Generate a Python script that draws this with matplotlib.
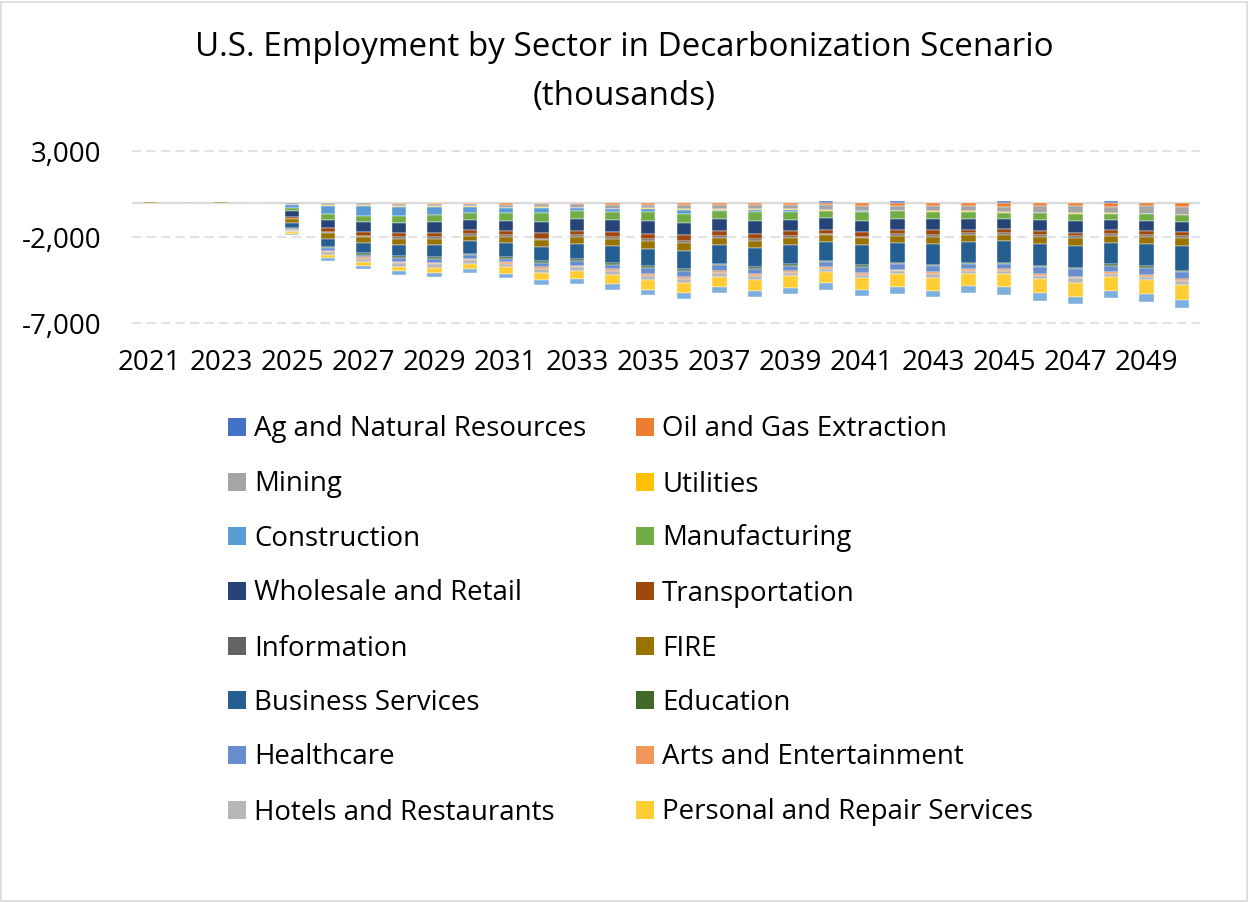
import numpy as np
import matplotlib
matplotlib.use("Agg")
import matplotlib.pyplot as plt
from matplotlib.patches import Rectangle

W, H = 1249, 902

years = list(range(2021, 2051))
tick_years = [str(y) for y in range(2021, 2051, 2)]
ytick_values = [3000, -2000, -7000]
ytick_labels = ["3,000", "-2,000", "-7,000"]

sectors = [
    "Ag and Natural Resources", "Oil and Gas Extraction", "Mining", "Utilities",
    "Construction", "Manufacturing", "Wholesale and Retail", "Transportation",
    "Information", "FIRE", "Business Services", "Education", "Healthcare",
    "Arts and Entertainment", "Hotels and Restaurants", "Personal and Repair Services",
    "Government",
]
colors = [
    "#4472C4", "#ED7D31", "#A5A5A5", "#FFC000", "#5B9BD5", "#70AD47", "#264478",
    "#9E480E", "#636363", "#997300", "#255E91", "#43682B", "#698ED0", "#F1975A",
    "#B7B7B7", "#FFCD33", "#7CAFDD",
]
legend_count = 16  # the reference legend is clipped after 16 entries

# values in thousands, 2021..2050
ag = [0, 0, 0, 0] + [0, 0, 0, 0, 0, 0, 0, 0, 0, 0, 0, 0, 0, 0, 0, 78, 0, 116, 0, 0, 116, 0, 0, 116, 0, 0]
oil = [0, 0, 0, 0] + [-19, -39, -39, -58, -78, -78, -116, -97, -97, -116, -116, -116, -116, -136, -136, -136, -194, -194, -194, -194, -233, -213, -213, -233, -213, -272]
mining = [0, 0, 0, -40] + [-97, -116, -78, -155, -136, -136, -175, -155, -194, -233, -194, -233, -272, -213, -252, -310, -272, -272, -291, -310, -330, -369, -407, -388, -427, -427]
utilities = [0, 0, 0, 0] + [-19, -39, -97, -58, -58, -58, -39, -58, -39, -39, -58, -58, -58, -58, -58, -39, 0, -39, -39, -39, -39, -39, -39, -39, -39, -39]
construction = [0, 0, 0, 0] + [-194, -485, -563, -485, -427, -310, -252, -310, -155, -155, -194, -252, -39, -155, -97, 0, -97, 0, 0, 0, 0, 0, 0, 0, 0, 0]
manufacturing = [0, 0, 0, 0] + [-155, -310, -369, -446, -446, -446, -466, -504, -485, -466, -504, -524, -485, -524, -466, -427, -485, -446, -446, -407, -349, -388, -427, -349, -369, -369]
wholesale = [0, 0, 0, 0] + [-349, -504, -582, -582, -601, -582, -621, -660, -660, -698, -737, -718, -679, -718, -660, -660, -679, -640, -640, -621, -601, -640, -660, -582, -601, -621]
transportation = [0, 0, 0, 0] + [-97, -233, -194, -233, -272, -233, -233, -310, -272, -310, -310, -330, -291, -310, -291, -233, -252, -252, -291, -213, -233, -252, -213, -252, -213, -233]
information = [0, 0, 0, 0] + [-39, -58, -78, -97, -78, -78, -78, -78, -97, -97, -97, -97, -116, -97, -97, -97, -97, -97, -97, -116, -116, -78, -116, -97, -116, -97]
fire = [45, 0, 35, 0] + [-213, -310, -330, -369, -349, -330, -388, -388, -407, -427, -466, -466, -427, -427, -388, -388, -407, -388, -427, -369, -349, -446, -427, -388, -427, -446]
business = [0, 0, 0, 0] + [-310, -504, -621, -640, -737, -718, -776, -854, -854, -970, -1028, -1067, -1067, -1106, -1125, -1086, -1164, -1164, -1183, -1222, -1242, -1261, -1280, -1261, -1300, -1455]
education = [0, 0, 0, 0] + [-19, -58, -78, -78, -78, -97, -116, -97, -116, -97, -78, -97, -97, -97, -97, -97, -78, -97, -97, -78, -97, -78, -97, -97, -97, -97]
healthcare = [0, 0, 0, 0] + [-97, -155, -155, -233, -252, -194, -213, -252, -291, -272, -369, -369, -349, -330, -330, -272, -369, -310, -349, -291, -291, -407, -427, -349, -427, -407]
arts = [0, 0, 0, 0] + [-39, -78, -78, -78, -78, -78, -78, -78, -97, -97, -97, -97, -97, -97, -97, -97, -97, -97, -97, -97, -97, -97, -97, -116, -97, -97]
hotels = [0, 25, 0, 0] + [-39, -175, -194, -213, -194, -213, -213, -233, -194, -252, -252, -272, -233, -233, -194, -213, -194, -175, -213, -175, -175, -194, -252, -175, -155, -233]
personal = [0, 0, 0, 0] + [-116, -175, -213, -272, -291, -291, -369, -446, -466, -504, -563, -563, -601, -660, -660, -640, -698, -737, -757, -737, -776, -795, -815, -815, -834, -873]
government = [0, 0, 0, 0] + [-78, -136, -175, -213, -233, -233, -252, -272, -291, -349, -330, -369, -349, -349, -369, -388, -369, -388, -388, -407, -427, -446, -446, -427, -466, -466]

series = [ag, oil, mining, utilities, construction, manufacturing, wholesale,
          transportation, information, fire, business, education, healthcare,
          arts, hotels, personal, government]

FONT = "Open Sans"
plt.rcParams["font.family"] = [FONT, "DejaVu Sans"]

fig = plt.figure(figsize=(W / 100, H / 100), dpi=100)
ax = fig.add_axes([132 / W, 1 - 323 / H, (1200 - 132) / W, (323 - 151) / H])

x = np.arange(len(years))
pos_base = np.zeros(len(years))
neg_base = np.zeros(len(years))
for vals, col in zip(series, colors):
    v = np.array(vals, dtype=float)
    pos = np.where(v > 0, v, 0)
    neg = np.where(v < 0, v, 0)
    mp = pos != 0
    mn = neg != 0
    ax.bar(x[mp], pos[mp], bottom=pos_base[mp], width=0.41, color=col,
           edgecolor="white", linewidth=0.3, zorder=3)
    ax.bar(x[mn], neg[mn], bottom=neg_base[mn], width=0.41, color=col,
           edgecolor="white", linewidth=0.3, zorder=3)
    pos_base += pos
    neg_base += neg

ax.set_xlim(-0.5, len(years) - 0.5)
ax.set_ylim(-7000, 3000)
ax.set_yticks(ytick_values)
ax.set_yticklabels(ytick_labels)
ax.set_xticks([years.index(int(t)) for t in tick_years])
ax.set_xticklabels(tick_years)
ax.tick_params(axis="both", length=0, labelsize=20, colors="black")
ax.tick_params(axis="y", pad=22)
ax.tick_params(axis="x", pad=19)
for s in ax.spines.values():
    s.set_visible(False)
for yv in ytick_values:
    ax.axhline(yv, color="#D9D9D9", lw=1.1, ls=(0, (6, 3.5)), zorder=1, clip_on=False)
ax.axhline(0, color="#D9D9D9", lw=1.6, zorder=2)

fig.text(0.5, 1 - 72 / H, "U.S. Employment by Sector in Decarbonization Scenario\n(thousands)",
         ha="center", va="center", fontsize=23.9, linespacing=1.62, color="black")

# legend (two columns, row-major order like the reference)
row_y = [427, 482, 536, 591, 646, 700, 755, 810]
col_marker_x = [228, 636]
col_text_x = [254, 662]
for i in range(legend_count):
    r, c = divmod(i, 2)
    yc = row_y[r]
    fig.patches.append(Rectangle((col_marker_x[c] / W, 1 - (yc + 9) / H), 18 / W, 18 / H,
                                 transform=fig.transFigure, facecolor=colors[i],
                                 edgecolor="none"))
    fig.text(col_text_x[c] / W, 1 - (yc + 9.5) / H, sectors[i], ha="left", va="baseline",
             fontsize=19.9, color="black")

fig.patches.append(Rectangle((0.001, 0.001), 0.997, 0.997, transform=fig.transFigure,
                             facecolor="none", edgecolor="#D9D9D9", linewidth=1.2))

fig.savefig("out.png", dpi=100)
